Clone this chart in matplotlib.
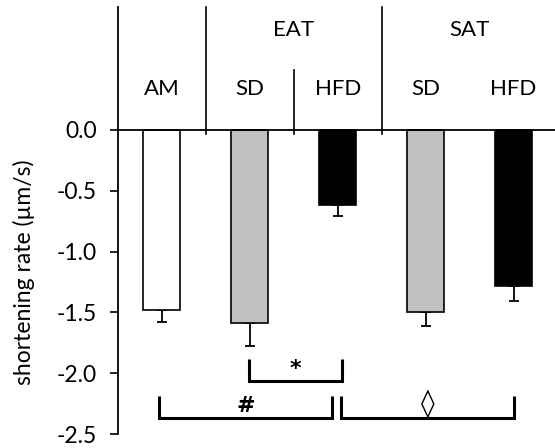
import matplotlib
matplotlib.use("Agg")
import matplotlib.pyplot as plt

plt.rcParams['font.family'] = ['Lato', 'DejaVu Sans']

groups = ["AM", "EAT", "EAT", "SAT", "SAT"]
diets = ["AM", "SD", "HFD", "SD", "HFD"]
values = [-1.48, -1.585, -0.615, -1.495, -1.283]
errors = [0.10, 0.19, 0.09, 0.12, 0.12]
colors = ["white", "#c0c0c0", "black", "#c0c0c0", "black"]
yticks = [0.0, -0.5, -1.0, -1.5, -2.0, -2.5]

fig = plt.figure(figsize=(5.55, 4.48), dpi=100)
ax = fig.add_axes([118/555, 14/448, (555-118)/555, (434-7)/448])
ax.set_xlim(0, 4.97)
ax.set_ylim(-2.5, 1.01)

x = [i + 0.5 for i in range(len(values))]
ax.bar(x, values, width=0.42, color=colors, edgecolor="black", linewidth=1.2, zorder=3)
ax.errorbar(x, values, yerr=[errors, [0]*len(errors)], fmt="none", ecolor="black",
            elinewidth=1.3, capsize=3.6, capthick=1.3, zorder=2)

for s in ["top", "right", "bottom"]:
    ax.spines[s].set_visible(False)
ax.spines["left"].set_linewidth(1.3)
ax.set_xticks([])
ax.set_yticks(yticks)
ax.set_yticklabels([f"{t:.1f}" for t in yticks], fontsize=16.5)
ax.tick_params(axis="y", direction="out", length=6, width=1.2, pad=9)
ax.set_ylabel("shortening rate (µm/s)", fontsize=16.5)
ax.yaxis.set_label_coords(-0.19, 0.379)

# header lines
ax.axhline(0, color="black", lw=1.3, zorder=4)
for xv in [1, 3]:
    ax.plot([xv, xv], [-0.03, 1.01], color="black", lw=1.2, clip_on=False)
ax.plot([2, 2], [-0.03, 0.49], color="black", lw=1.2)

# header labels
ax.text(2.0, 0.82, "EAT", ha="center", va="center", fontsize=16)
ax.text(4.0, 0.82, "SAT", ha="center", va="center", fontsize=16)
for xi, d in zip(x, diets):
    ax.text(xi, 0.34, d, ha="center", va="center", fontsize=16)

# significance brackets
def bracket(x0, x1, ytop, ybot, label, size):
    ax.plot([x0, x0, x1, x1], [ytop, ybot, ybot, ytop], color="black", lw=2.2,
            solid_capstyle="butt", solid_joinstyle="miter", clip_on=False)
    ax.text((x0 + x1) / 2, (ytop + ybot) / 2 + 0.01, label, ha="center", va="center",
            fontsize=size, fontweight="bold", family=["DejaVu Sans"])

bracket(1.49, 2.55, -1.885, -2.064, "*", 16)
bracket(0.47, 2.43, -2.19, -2.37, "#", 16)
ax.plot([2.54, 2.54, 4.50, 4.50], [-2.19, -2.37, -2.37, -2.19], color="black", lw=2.2,
        solid_capstyle="butt", solid_joinstyle="miter")
ax.text(3.52, -2.26, "◊", ha="center", va="center", fontsize=20, family=["DejaVu Sans"])

fig.savefig("out.png", dpi=100)
